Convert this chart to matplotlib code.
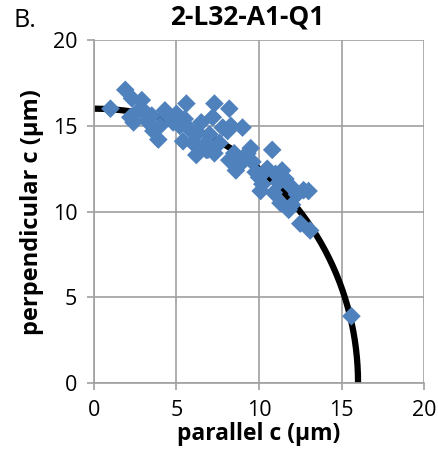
import numpy as np
import matplotlib
matplotlib.use('Agg')
import matplotlib.pyplot as plt

# measured cell dimensions (um)
parallel_c = [1.0, 1.9, 2.3, 2.9, 2.2, 2.6, 3.0, 2.4, 3.2, 3.6, 3.9, 4.0, 3.5,
              4.5, 4.8, 4.3, 5.0, 5.2,
              5.6, 5.5, 5.8, 5.4, 6.0, 6.3, 6.5, 6.7, 6.9, 7.0, 7.2, 7.3, 7.6,
              7.3, 8.2, 8.1, 7.8, 8.3, 8.5, 8.2, 8.6, 8.9, 6.2, 9.0, 9.5, 6.8,
              9.3, 9.6, 9.8, 10.0, 10.2, 10.5, 10.8, 10.9, 11.0, 11.2, 11.4,
              11.3, 11.6, 11.8, 12.0, 12.0, 12.3, 12.7, 12.5, 13.1, 13.0, 10.1,
              15.6]
perpendicular_c = [16.0, 17.1, 16.6, 16.5, 15.5, 15.8, 15.9, 15.2, 15.3, 14.7,
                   14.2, 15.0, 15.6, 15.6, 15.2, 15.9, 15.7, 15.0,
                   16.3, 15.4, 14.8, 14.1, 14.0, 14.6, 15.2, 13.9, 13.6, 14.5,
                   15.5, 16.3, 14.0, 13.4, 16.0, 14.7, 14.9, 15.0, 13.4, 13.0,
                   12.4, 12.8, 13.3, 14.9, 13.7, 13.6,
                   13.4, 12.9, 12.3, 12.0, 11.6, 12.5, 13.6, 11.1, 12.2, 11.7,
                   12.4, 10.5, 11.9, 10.1, 10.4, 11.4, 11.0, 11.25, 9.3, 8.9,
                   11.2, 11.2, 3.9]

# model curve: quarter circle of radius 16 um
radius = 16.0

plt.rcParams['font.family'] = ['Open Sans', 'DejaVu Sans']

fig = plt.figure(figsize=(4.39, 4.61), dpi=100)
ax = fig.add_axes([0.214, 0.169, 0.752, 0.744])

theta = np.linspace(0, np.pi / 2, 300)
ax.plot(radius * np.cos(theta), radius * np.sin(theta), color='black',
        lw=4.5, zorder=2, solid_capstyle='butt')
ax.scatter(parallel_c, perpendicular_c, marker='D', s=90, color='#4F81BD',
           edgecolors='none', zorder=3)

ax.set_xlim(0, 20)
ax.set_ylim(0, 20)
ax.set_xticks([0, 5, 10, 15, 20])
ax.set_yticks([0, 5, 10, 15, 20])
ax.grid(True, color='#A0A0A0', lw=1.2, zorder=0)
ax.set_axisbelow(True)
for side in ['top', 'right']:
    ax.spines[side].set_visible(False)
for side in ['left', 'bottom']:
    ax.spines[side].set_color('#A0A0A0')
    ax.spines[side].set_linewidth(1.2)
ax.tick_params(direction='out', length=5, width=1.2, color='#A0A0A0',
               labelsize=15.5, pad=7)

ax.set_xlabel('parallel c (µm)', fontsize=16.5, fontweight='bold', labelpad=1)
ax.set_ylabel('perpendicular c (µm)', fontsize=17, fontweight='bold', labelpad=6)
fig.text(0.563, 0.963, '2-L32-A1-Q1', fontsize=19, fontweight='bold',
         ha='center', va='center')
fig.text(0.03, 0.955, 'B.', fontsize=18, ha='left', va='center')

fig.savefig('out.png', dpi=100)
